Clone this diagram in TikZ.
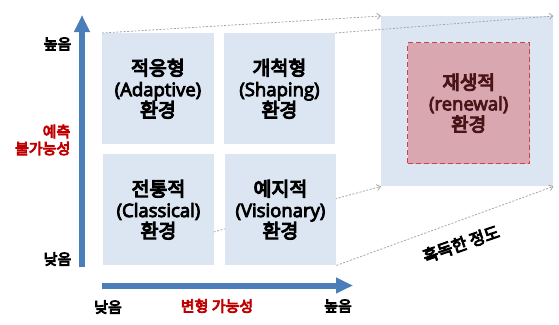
\documentclass[tikz,border=0pt]{standalone}
\usepackage{fontspec}
\setmainfont{Noto Sans CJK KR}
\newfontfamily\krfam{Noto Sans CJK KR}[BoldFont={Noto Sans CJK KR},BoldFeatures={FakeBold=5.5}]
\newfontfamily\latfam{Open Sans}[BoldFont={Open Sans},BoldFeatures={FakeBold=4.5}]
\newcommand{\krb}{\krfam\bfseries}
\newcommand{\latb}{\latfam\bfseries}
\usetikzlibrary{arrows.meta}
\definecolor{boxfill}{HTML}{DCE6F2}
\definecolor{axisblue}{HTML}{4A7EBB}
\definecolor{labred}{HTML}{C00000}
\definecolor{redfill}{HTML}{D8A7AF}
\definecolor{redline}{HTML}{D0404F}
\definecolor{redtext}{HTML}{4A1518}
\definecolor{guide}{HTML}{A6A6A6}
\newcommand{\ltx}[1]{{\latb\fontsize{18.5}{21}\selectfont #1}}
\begin{document}
\begin{tikzpicture}[x=1pt,y=-1pt,
  quad/.style={fill=boxfill,draw=none,minimum width=111.5pt,minimum height=111pt,inner sep=0pt,
    align=center,font=\krb\fontsize{19.5}{21}\selectfont,text=black},
  guideline/.style={draw=guide,line width=0.8pt,dash pattern=on 2pt off 1.6pt,-{Straight Barb[length=3.5pt,width=6pt]}},
  axis/.style={draw=axisblue,line width=6pt,-{Triangle[length=17pt,width=15pt]}},
  axlab/.style={font=\krb\fontsize{15}{17}\selectfont,inner sep=0pt}]
\useasboundingbox (0,0) rectangle (559,324);
% big box
\node[fill=boxfill,minimum width=172pt,minimum height=170pt,inner sep=0pt,anchor=north west] (big) at (381,16) {};
\node[fill=redfill,draw=redline,line width=1.3pt,dash pattern=on 5pt off 3pt,minimum width=122pt,minimum height=121pt,
  inner sep=0pt,anchor=north west,align=center,text=redtext,font=\krb\fontsize{19}{21}\selectfont] (red) at (407,42)
  {재생적\\\ltx{(renewal)}\\환경};
% guide lines (drawn before quadrants)
\node[quad,anchor=north west] (tl) at (102,33) {적응형\\\ltx{(Adaptive)}\\환경};
\coordinate (s3) at (213.5,232);
\draw[guideline] (tl.north west) -- (big.north west);
\draw[guideline] (s3) -- (big.south west);
\node[quad,anchor=north west] (tr) at (223.5,33) {개척형\\\ltx{(Shaping)}\\환경};
\node[quad,anchor=north west] (bl) at (102.5,154) {전통적\\\ltx{(Classical)}\\환경};
\node[quad,anchor=north west] (br) at (224.5,154) {예지적\\\ltx{(Visionary)}\\환경};
\draw[guideline] (tr.north east) -- (big.north east);
\draw[guideline] (br.south east) -- (big.south east);
% axes
\coordinate (v0) at (82,267);
\coordinate (v1) at (82,15);
\coordinate (h0) at (102,285.5);
\coordinate (h1) at (353,285.5);
\draw[axis] (v0) -- (v1);
\draw[axis] (h0) -- (h1);
% labels
\node[axlab] (yhi) at (57.5,44) {높음};
\node[axlab] (ylo) at (57.5,259) {낮음};
\node[axlab,text=labred,align=right,anchor=east] (ylab) at (70.5,140) {예측\\불가능성};
\node[axlab] (xlo) at (108,307) {낮음};
\node[axlab,text=labred] (xlab) at (217,306) {변형 가능성};
\node[axlab] (xhi) at (338,306) {높음};
\node[font=\krb\fontsize{16.5}{18}\selectfont,rotate=19,inner sep=0pt] (harsh) at (461,244) {혹독한 정도};
\end{tikzpicture}
\end{document}
